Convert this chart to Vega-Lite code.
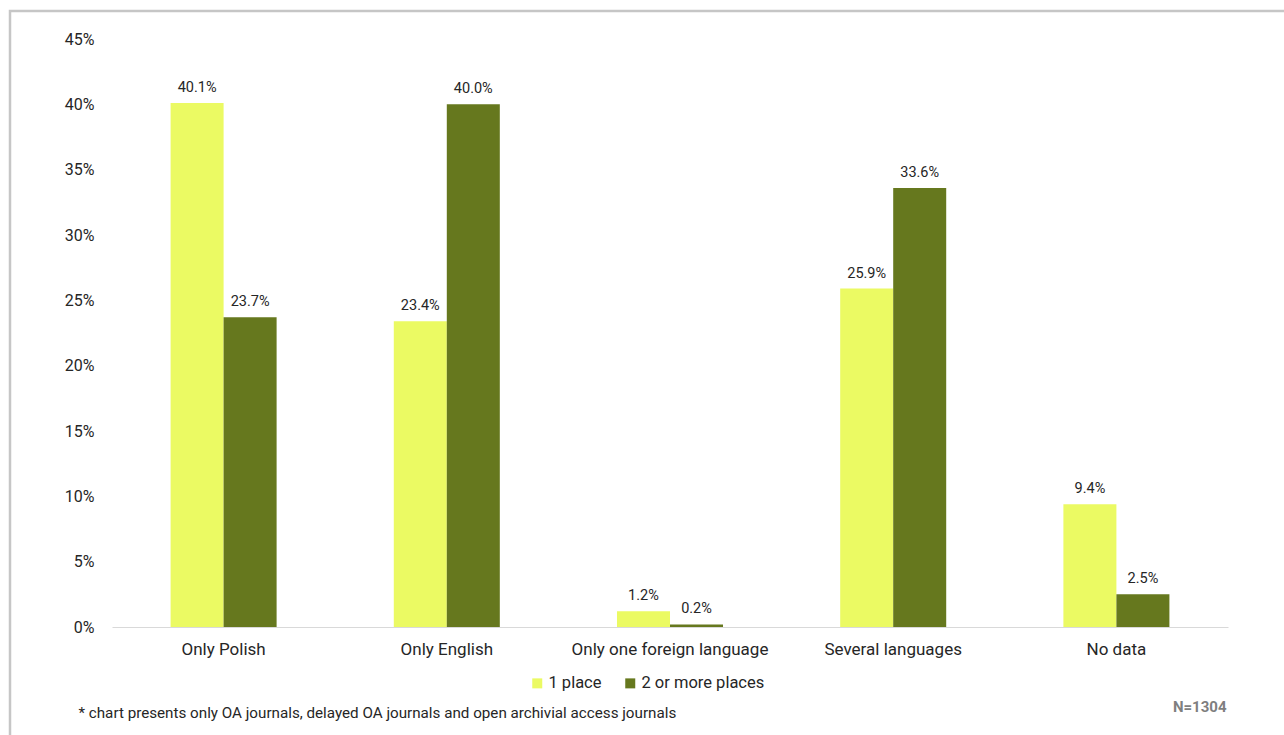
{
  "$schema": "https://vega.github.io/schema/vega-lite/v6.json",
  "autosize": "none",
  "width": 1276,
  "height": 726,
  "padding": {"left": 10, "top": 11, "right": 0, "bottom": 0},
  "background": "white",
  "view": {"stroke": "#c6c6c6", "strokeWidth": 2.5, "fill": "white"},
  "data": {
    "values": [
      {"language": "Only Polish", "series": "1 place", "share": 0.401},
      {"language": "Only Polish", "series": "2 or more places", "share": 0.237},
      {"language": "Only English", "series": "1 place", "share": 0.234},
      {"language": "Only English", "series": "2 or more places", "share": 0.400},
      {"language": "Only one foreign language", "series": "1 place", "share": 0.012},
      {"language": "Only one foreign language", "series": "2 or more places", "share": 0.002},
      {"language": "Several languages", "series": "1 place", "share": 0.259},
      {"language": "Several languages", "series": "2 or more places", "share": 0.336},
      {"language": "No data", "series": "1 place", "share": 0.094},
      {"language": "No data", "series": "2 or more places", "share": 0.025}
    ]
  },
  "encoding": {
    "x": {
      "field": "language",
      "type": "nominal",
      "sort": ["Only Polish", "Only English", "Only one foreign language", "Several languages", "No data"],
      "scale": {"range": [102, 1218], "paddingInner": 0.525, "paddingOuter": 0.2625},
      "axis": {
        "offset": -110,
        "title": "* chart presents only OA journals, delayed OA journals and open archivial access journals",
        "titleX": 68,
        "titleY": 85,
        "titleAlign": "left",
        "titleAnchor": "start",
        "titleBaseline": "middle",
        "titleFont": "Roboto",
        "titleFontSize": 15.2,
        "titleFontWeight": "normal",
        "titleColor": "#262626",
        "labelAngle": 0,
        "labelFont": "Roboto",
        "labelFontSize": 17,
        "labelColor": "#262626",
        "labelPadding": 14,
        "labelLimit": 400,
        "ticks": false,
        "domainColor": "#d9d9d9",
        "domainWidth": 1
      }
    },
    "xOffset": {
      "field": "series",
      "type": "nominal",
      "sort": ["1 place", "2 or more places"],
      "scale": {"paddingInner": 0, "paddingOuter": 0}
    },
    "y": {
      "field": "share",
      "type": "quantitative",
      "scale": {"domain": [0, 0.45], "nice": false, "range": [616, 28]},
      "axis": {
        "offset": -102,
        "title": "N=1304",
        "titleAngle": 0,
        "titleX": 1114,
        "titleY": 695,
        "titleAlign": "right",
        "titleBaseline": "middle",
        "titleFont": "Roboto",
        "titleFontSize": 15,
        "titleFontWeight": "bold",
        "titleColor": "#7f7f7f",
        "values": [0, 0.05, 0.1, 0.15, 0.2, 0.25, 0.3, 0.35, 0.4, 0.45],
        "format": ".0%",
        "grid": false,
        "domain": false,
        "ticks": false,
        "labelFont": "Roboto",
        "labelFontSize": 16,
        "labelColor": "#262626",
        "labelPadding": 18
      }
    }
  },
  "layer": [
    {
      "mark": {"type": "bar"},
      "encoding": {
        "color": {
          "field": "series",
          "type": "nominal",
          "sort": ["1 place", "2 or more places"],
          "scale": {"domain": ["1 place", "2 or more places"], "range": ["#ebfa63", "#66781e"]},
          "legend": {
            "title": null,
            "orient": "none",
            "direction": "horizontal",
            "legendX": 519,
            "legendY": 664,
            "padding": 0,
            "symbolType": "square",
            "symbolSize": 100,
            "symbolStrokeWidth": 0,
            "labelFont": "Roboto",
            "labelFontSize": 16.5,
            "labelColor": "#262626",
            "labelOffset": 3,
            "columnPadding": 20
          }
        }
      }
    },
    {
      "mark": {"type": "text", "baseline": "alphabetic", "dy": -11, "font": "Roboto", "fontSize": 14.5, "color": "#262626"},
      "encoding": {
        "text": {"field": "share", "type": "quantitative", "format": ".1%"}
      }
    }
  ]
}
